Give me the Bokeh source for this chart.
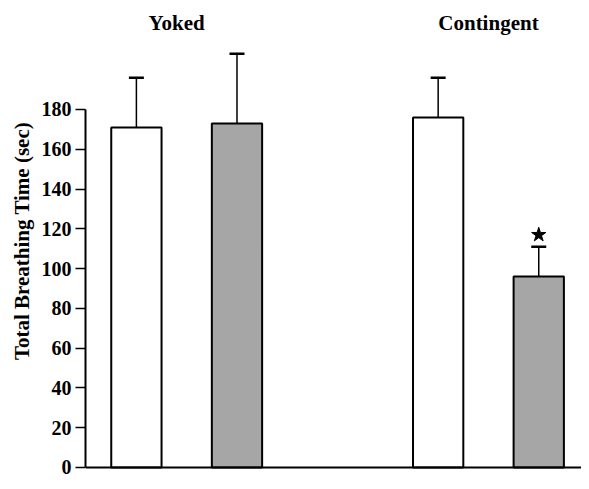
from bokeh.plotting import figure
from bokeh.models import Range1d, FixedTicker, Whisker, TeeHead, ColumnDataSource, Span, Label
from bokeh.embed import file_html
from bokeh.resources import INLINE

# ---- data ----
groups = ["Yoked", "Yoked", "Contingent", "Contingent"]
condition = ["open", "filled", "open", "filled"]
positions = [0, 1, 3, 4]
values = [171, 173, 176, 96]
errors = [25, 35, 20, 15]
significant = [False, False, False, True]
y_ticks = [0, 20, 40, 60, 80, 100, 120, 140, 160, 180]
group_names = ["Yoked", "Contingent"]

FONT = "Liberation Serif"
color_map = {"open": "white", "filled": "#a6a6a6"}
fills = [color_map[c] for c in condition]
uppers = [v + e for v, e in zip(values, errors)]

src = ColumnDataSource(dict(x=positions, top=values, upper=uppers, fill=fills))

p = figure(width=581, height=481, output_backend="svg", toolbar_location=None,
           x_range=Range1d(-0.506, 4.425), y_range=Range1d(-7.04, 234.8),
           x_axis_location=None,
           min_border_left=85, min_border_right=0, min_border_top=0, min_border_bottom=0)
p.outline_line_color = None
p.xgrid.visible = False
p.ygrid.visible = False
p.background_fill_color = "white"
p.border_fill_color = "white"

# y axis
ax = p.yaxis[0]
ax.ticker = FixedTicker(ticks=y_ticks)
ax.bounds = (y_ticks[0], y_ticks[-1])
ax.axis_label = "Total Breathing Time (sec)"
ax.axis_label_text_font = FONT
ax.axis_label_text_font_style = "bold"
ax.axis_label_text_font_size = "21px"
ax.axis_label_standoff = 5
ax.major_label_text_font = FONT
ax.major_label_text_font_style = "bold"
ax.major_label_text_font_size = "20px"
ax.major_label_standoff = 4
ax.major_tick_out = 10
ax.major_tick_in = 0
ax.minor_tick_out = 0
ax.minor_tick_in = 0
ax.axis_line_width = 2
ax.major_tick_line_width = 1.5
ax.axis_line_color = "black"
ax.major_label_text_color = "black"
ax.axis_label_text_color = "black"

# baseline
p.add_layout(Span(location=0, dimension="width", line_color="black", line_width=2))

# error bars (upward only)
w = Whisker(base="x", lower="top", upper="upper", source=src,
            upper_head=TeeHead(size=15, line_width=2.5, line_color="black"),
            lower_head=None, line_width=1.5, line_color="black")
p.add_layout(w)

# bars
p.vbar(x="x", top="top", width=0.5, bottom=0, source=src,
       fill_color="fill", line_color="black", line_width=2)

# significance star
sx = [x for x, s in zip(positions, significant) if s]
sy = [u + 6 for u, s in zip(uppers, significant) if s]
p.scatter(sx, sy, marker="star", size=15, color="black")

# group labels
for g in group_names:
    xs = [x for x, gg in zip(positions, groups) if gg == g]
    cx = sum(xs) / len(xs)
    if g == "Yoked":
        cx -= 0.1
    p.add_layout(Label(x=cx, y=223.7, text=g, text_align="center", text_baseline="middle",
                       text_font=FONT, text_font_style="bold", text_font_size="21px",
                       text_color="black"))

open("out.html", "w").write(file_html(p, INLINE))
